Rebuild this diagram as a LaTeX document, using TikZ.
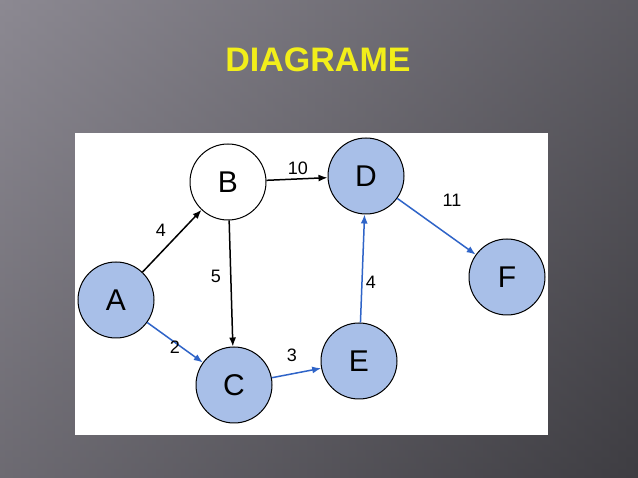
\documentclass[tikz,border=0pt]{standalone}
\usepackage{fontspec}
\setmainfont{Liberation Sans}
\usetikzlibrary{arrows.meta}
\definecolor{nblue}{HTML}{A8BFE8}
\definecolor{ablue}{HTML}{2F64C8}
\definecolor{ttl}{HTML}{F2EE1A}
\definecolor{bgl}{HTML}{8C8992}
\definecolor{bgr}{HTML}{3E3D42}
\begin{document}
\begin{tikzpicture}[x=1pt,y=-1pt,
  nd/.style={circle,draw=black,line width=1pt,minimum size=76pt,inner sep=0pt,font=\fontsize{30}{32}\selectfont},
  bl/.style={nd,fill=nblue},
  wh/.style={nd,fill=white},
  ka/.style={-{Latex[length=9pt,width=7pt]},line width=1.5pt,black},
  ba/.style={-{Latex[length=9pt,width=7pt]},line width=1.5pt,ablue},
  lb/.style={font=\fontsize{18}{20}\selectfont}]
\useasboundingbox (0,0) rectangle (638,478);
\shade[left color=bgl,right color=bgr] (0,0) rectangle (638,478);
\shade[top color=bgl,bottom color=bgr,opacity=0.4] (0,0) rectangle (638,478);
\node[font=\bfseries\fontsize{34}{36}\selectfont,text=ttl] (t) at (318,60) {DIAGRAME};
\fill[white] (75,133) rectangle (548,435);
\node[bl] (A) at (116,300) {A};
\node[wh] (B) at (228,182) {B};
\node[bl] (D) at (366,176) {D};
\node[bl] (F) at (507,277) {F};
\node[bl] (C) at (234,385) {C};
\node[bl] (E) at (359,361) {E};
\draw[ka] (A) -- (B);
\draw[ka] (B) -- (D);
\draw[ka] (B) -- (C);
\draw[ba] (A) -- (C);
\draw[ba] (C) -- (E);
\draw[ba] (E) -- (D);
\draw[ba] (D) -- (F);
\node[lb] (l1) at (161,230) {4};
\node[lb] (l2) at (298,168) {10};
\node[lb] (l3) at (216,276) {5};
\node[lb] (l4) at (175,347) {2};
\node[lb] (l5) at (292,355) {3};
\node[lb] (l6) at (371,282) {4};
\node[lb] (l7) at (452,200) {11};
\end{tikzpicture}
\end{document}
